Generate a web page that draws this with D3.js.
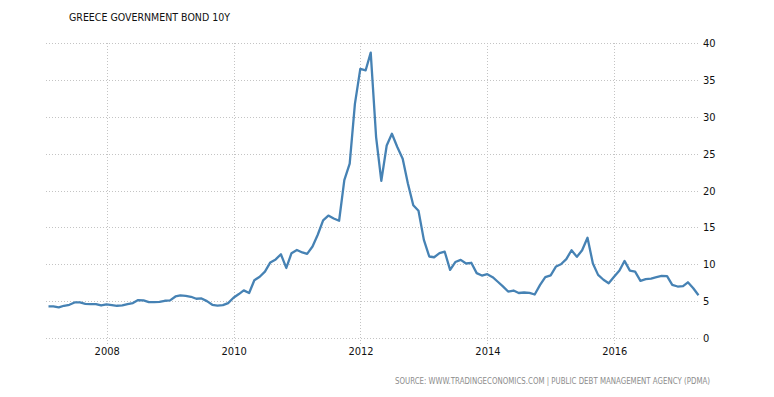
<!DOCTYPE html>
<html>
<head>
<meta charset="utf-8">
<script src="https://cdn.jsdelivr.net/npm/d3@7"></script>
<style>
  html, body { margin: 0; padding: 0; background: #ffffff; }
  svg { display: block; }
  .grid line { stroke: #c4c4c4; stroke-width: 1; stroke-dasharray: 1,2; shape-rendering: crispEdges; }
  .axis text { font-family: "DejaVu Sans Condensed", "DejaVu Sans", Arial, sans-serif; font-size: 11px; fill: #111; }
  .axis path, .axis line { display: none; }
</style>
</head>
<body>
<div id="chart"></div>
<script>
// Greece government bond 10Y yield, monthly (end of month), Jan 2007 .. Apr 2017
const yieldValues = [
  4.28, 4.28, 4.14, 4.37, 4.50, 4.82, 4.82, 4.64, 4.60, 4.60, 4.41, 4.55,   // 2007
  4.46, 4.37, 4.41, 4.60, 4.73, 5.14, 5.10, 4.86, 4.86, 4.90, 5.05, 5.10,   // 2008
  5.63, 5.77, 5.72, 5.59, 5.32, 5.36, 5.00, 4.50, 4.40, 4.45, 4.73, 5.46,   // 2009
  5.96, 6.46, 6.10, 7.83, 8.30, 9.00, 10.25, 10.66, 11.35, 9.50, 11.50, 11.94, // 2010
  11.60, 11.40, 12.40, 14.00, 15.96, 16.60, 16.20, 15.90, 21.40, 23.65, 31.75, 36.50, // 2011
  36.30, 38.70, 27.25, 21.30, 26.10, 27.70, 25.90, 24.30, 20.95, 18.00, 17.25, 13.30, // 2012
  11.05, 10.95, 11.50, 11.70, 9.23, 10.30, 10.60, 10.10, 10.20, 8.80, 8.47, 8.65,   // 2013
  8.25, 7.66, 7.00, 6.30, 6.44, 6.10, 6.17, 6.13, 5.90, 7.20, 8.25, 8.50,   // 2014
  9.70, 10.00, 10.70, 11.90, 11.00, 11.90, 13.60, 10.10, 8.56, 7.90, 7.43, 8.30,  // 2015
  9.14, 10.45, 9.14, 9.00, 7.75, 7.97, 8.06, 8.24, 8.42, 8.38, 7.20, 6.98,  // 2016
  7.03, 7.55, 6.75, 5.80                                                     // 2017
];
const yTicks = [0, 5, 10, 15, 20, 25, 30, 35, 40];
const xTickYears = [2008, 2010, 2012, 2014, 2016];
const titleText = 'GREECE GOVERNMENT BOND 10Y';
const sourceText = 'SOURCE: WWW.TRADINGECONOMICS.COM | PUBLIC DEBT MANAGEMENT AGENCY (PDMA)';

const width = 774, height = 397;
const plotLeft = 46, plotRight = 700, plotTop = 43, plotBottom = 338;
const fontStack = '"DejaVu Sans Condensed", "DejaVu Sans", Arial, sans-serif';

// one end-of-month date per value
const dates = yieldValues.map((_, i) => d3.timeDay.offset(d3.timeMonth.offset(new Date(2007, 1, 1), i), -1));
const data = yieldValues.map((v, i) => ({ date: dates[i], value: v }));

const svg = d3.select('#chart')
  .append('svg')
  .attr('width', width)
  .attr('height', height);

const x = d3.scaleTime()
  .domain([dates[0], dates[dates.length - 1]])
  .range([48.5, 698.5]);

const y = d3.scaleLinear()
  .domain([0, 40])
  .range([plotBottom, plotTop]);

const yearDates = xTickYears.map(yr => new Date(yr, 0, 1));

// Grid lines
const grid = svg.append('g').attr('class', 'grid');

grid.selectAll('line.h')
  .data(yTicks)
  .enter().append('line')
  .attr('class', 'h')
  .attr('x1', plotLeft)
  .attr('x2', plotRight)
  .attr('y1', d => Math.round(y(d)) + 0.5)
  .attr('y2', d => Math.round(y(d)) + 0.5);

grid.selectAll('line.v')
  .data(yearDates)
  .enter().append('line')
  .attr('class', 'v')
  .attr('x1', d => Math.round(x(d)) + 0.5)
  .attr('x2', d => Math.round(x(d)) + 0.5)
  .attr('y1', plotTop)
  .attr('y2', plotBottom + 6);

// Axes (labels only)
svg.append('g')
  .attr('class', 'axis')
  .attr('transform', `translate(${plotRight},0)`)
  .call(d3.axisRight(y).tickValues(yTicks).tickSize(0).tickPadding(3));

svg.append('g')
  .attr('class', 'axis')
  .attr('transform', `translate(0,${plotBottom})`)
  .call(d3.axisBottom(x).tickValues(yearDates).tickSize(0).tickPadding(9).tickFormat(d3.timeFormat('%Y')));

// Series line
const line = d3.line()
  .x(d => x(d.date))
  .y(d => y(d.value));

svg.append('path')
  .datum(data)
  .attr('fill', 'none')
  .attr('stroke', '#4682b4')
  .attr('stroke-width', 2.3)
  .attr('stroke-linejoin', 'round')
  .attr('d', line);

// Title
svg.append('text')
  .attr('x', 69)
  .attr('y', 21)
  .attr('textLength', 161)
  .attr('lengthAdjust', 'spacingAndGlyphs')
  .style('font-family', fontStack)
  .style('font-size', '10.5px')
  .style('fill', '#111')
  .text(titleText);

// Source note
svg.append('text')
  .attr('x', 395)
  .attr('y', 384)
  .attr('textLength', 315)
  .attr('lengthAdjust', 'spacingAndGlyphs')
  .style('font-family', fontStack)
  .style('font-size', '8.5px')
  .style('fill', '#8c8c8c')
  .text(sourceText);
</script>
</body>
</html>
